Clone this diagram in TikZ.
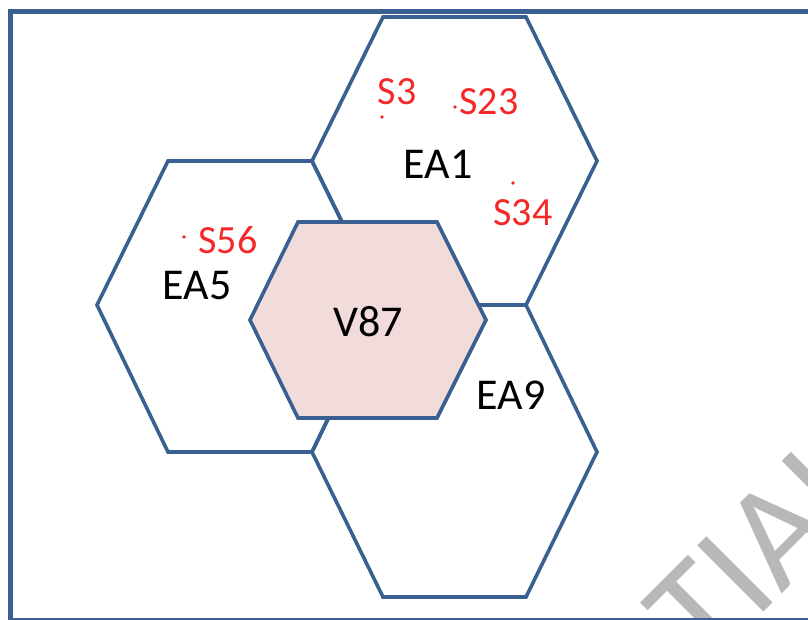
\documentclass[tikz,border=0pt]{standalone}
\usepackage{fontspec}
\setmainfont{Carlito}
\definecolor{hexline}{HTML}{3A6092}
\definecolor{vfill}{HTML}{F2DCDB}
\definecolor{slabel}{HTML}{F52828}
\definecolor{wmark}{HTML}{B8B8B8}
\tikzset{
  hexcell/.style={draw=hexline, line width=3.6pt, line join=miter},
  vcell/.style={hexcell, fill=vfill},
  ealabel/.style={font=\fontsize{44}{44}\selectfont, text=black, inner sep=0pt},
  slab/.style={font=\fontsize{40}{40}\selectfont, text=slabel, inner sep=0pt},
  sdot/.style={circle, fill=slabel, inner sep=0pt, minimum size=3.6pt},
  wm/.style={font=\fontsize{146}{146}\selectfont, text=wmark, inner sep=0pt}
}
\begin{document}
\begin{tikzpicture}[x=1pt,y=-1pt]
\useasboundingbox (0,0) rectangle (808,619);
\clip (0,0) rectangle (808,619);
% watermark (partly outside the picture)
\node[wm, rotate=45, anchor=base west] (wmk) at (705,671) {TIAL};
% frame
\draw[draw=hexline, line width=5pt] (10,11) rectangle (840,620);
% cells
\draw[hexcell] (383,17) -- (526,17) -- (597,161) -- (526,305) -- (383,305) -- (312,161) -- cycle;
\draw[hexcell] (168,161) -- (312,161) -- (383,305) -- (312,452) -- (168,452) -- (97,305) -- cycle;
\draw[hexcell] (383,305) -- (526,305) -- (597,452) -- (526,597) -- (383,597) -- (312,452) -- cycle;
\draw[vcell] (298,222) -- (437,222) -- (486,320) -- (437,418) -- (298,418) -- (250,320) -- cycle;
% labels
\node[ealabel] (ea1) at (438,164) {EA1};
\node[ealabel] (ea5) at (197,286) {EA5};
\node[ealabel] (v87) at (368,322) {V87};
\node[ealabel] (ea9) at (511,395) {EA9};
\node[slab] (s3) at (397,92) {S3};
\node[slab] (s23) at (489,102) {S23};
\node[slab] (s34) at (523,213) {S34};
\node[slab] (s56) at (228,240) {S56};
\node[sdot] (d3) at (382,117) {};
\node[sdot] (d23) at (455,107) {};
\node[sdot] (d34) at (513,183) {};
\node[sdot] (d56) at (184,237) {};
\end{tikzpicture}
\end{document}
